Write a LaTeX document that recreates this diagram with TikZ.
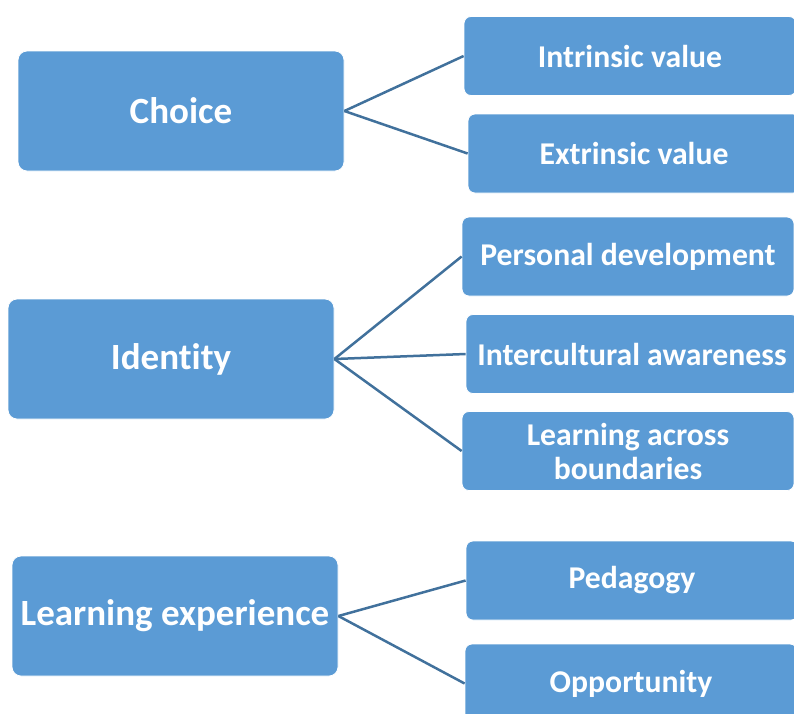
\documentclass[tikz,border=0pt]{standalone}
\usepackage{fontspec}
\setmainfont{Carlito}[RawFeature=-liga]
\definecolor{boxblue}{HTML}{5B9BD5}
\definecolor{lineblue}{HTML}{41719C}
\begin{document}
\begin{tikzpicture}[x=1pt,y=-1pt,
  bigbox/.style={fill=boxblue, draw=white, line width=0.8pt, rounded corners=9pt, minimum width=326pt, minimum height=120pt, inner sep=0pt, text=white, font=\fontsize{37}{41}\selectfont\bfseries, align=center},
  smallbox/.style={fill=boxblue, draw=white, line width=0.8pt, rounded corners=7pt, minimum width=332pt, minimum height=79pt, inner sep=0pt, text=white, font=\fontsize{31.7}{34}\selectfont\bfseries, align=center},
  link/.style={draw=lineblue, line width=2.5pt}]
\useasboundingbox (0,0) rectangle (794,713);
\clip (0,0) rectangle (794,713);
\node[bigbox] (choice) at (181,111) {Choice};
\node[bigbox] (identity) at (171,359) {Identity};
\node[bigbox] (learn) at (175,616) {Learning experience};
\node[smallbox] (intr) at (630,56) {Intrinsic value};
\node[smallbox] (extr) at (634,153.5) {Extrinsic value};
\node[smallbox] (pers) at (628,256.5) {Personal development};
\node[smallbox] (inter) at (632,354) {Intercultural awareness};
\node[smallbox] (across) at (628,451) {Learning across\\boundaries};
\node[smallbox] (ped) at (632,580.5) {Pedagogy};
\node[smallbox] (opp) at (631,683.5) {Opportunity};
\draw[link] (choice.east) -- (intr.west);
\draw[link] (choice.east) -- (extr.west);
\draw[link] (identity.east) -- (pers.west);
\draw[link] (identity.east) -- (inter.west);
\draw[link] (identity.east) -- (across.west);
\draw[link] (learn.east) -- (ped.west);
\draw[link] (learn.east) -- (opp.west);
\end{tikzpicture}
\end{document}
